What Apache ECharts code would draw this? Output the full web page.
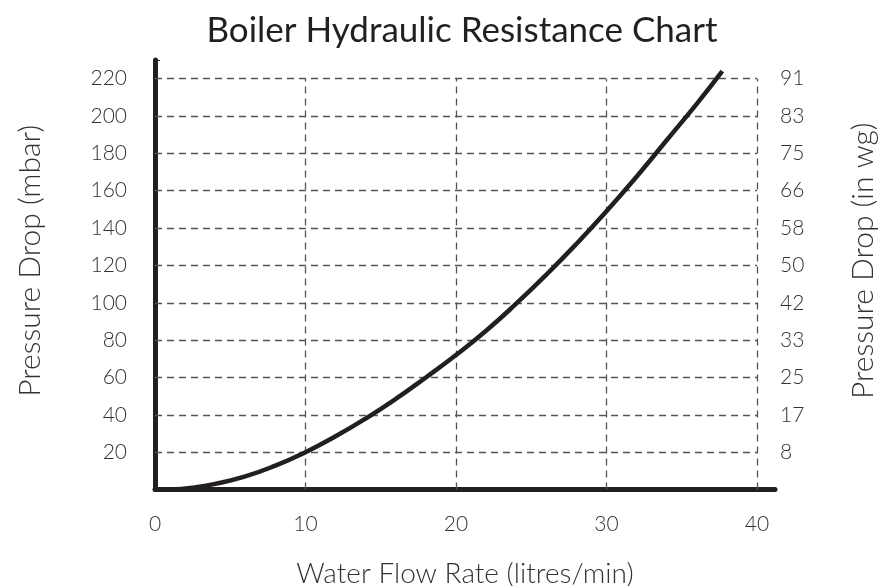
<!DOCTYPE html>
<html>
<head>
<meta charset="utf-8">
<script src="https://cdn.jsdelivr.net/npm/echarts@6/dist/echarts.min.js"></script>
<style>
html,body{margin:0;padding:0;background:#fff;}
#chart{width:893px;height:586px;}
</style>
</head>
<body>
<div id="chart"></div>
<script>
// Data
const flowRate = [1, 2.5, 4, 6, 8, 10, 12, 14, 16, 18, 20, 22, 24, 26, 28, 30, 32, 34, 36, 37.7];
const pressureMbar = [0, 1, 3, 7, 12.8, 20, 28.5, 38, 48.5, 60, 72, 85, 99.5, 115, 131.5, 149, 167.5, 187, 206.5, 224];
const xTicks = [10, 20, 30, 40];
const yTicks = [20, 40, 60, 80, 100, 120, 140, 160, 180, 200, 220];
const rightTickLabels = ['8', '17', '25', '33', '42', '50', '58', '66', '75', '83', '91'];

const ink = '#231f20';
const font = 'Lato, "Open Sans", sans-serif';

const gridLines = [];
yTicks.forEach(v => gridLines.push([{coord: [0, v]}, {coord: [40, v]}]));
xTicks.forEach(v => gridLines.push([{coord: [v, 0]}, {coord: [v, 220]}]));

const chart = echarts.init(document.getElementById('chart'));
chart.setOption({
  animation: false,
  title: {
    text: 'Boiler Hydraulic Resistance Chart',
    left: 457, top: 8, textAlign: 'center',
    textStyle: {fontFamily: font, fontSize: 35, fontWeight: 400, color: ink}
  },
  grid: {left: 155, right: 118, top: 60, bottom: 96.5, containLabel: false, outerBoundsMode: 'none'},
  xAxis: {
    type: 'value', min: 0, max: 41.2, interval: 10,
    name: 'Water Flow Rate (litres/min)', nameLocation: 'middle', nameGap: 70,
    nameTextStyle: {fontFamily: font, fontSize: 28, fontWeight: 300, color: '#333'},
    axisLine: {show: true, lineStyle: {color: ink, width: 5}},
    axisTick: {show: false},
    splitLine: {show: false},
    axisLabel: {
      margin: 24, fontFamily: font, fontSize: 21, fontWeight: 300, color: '#333',
      formatter: v => (v % 10 === 0 ? String(v) : '')
    }
  },
  yAxis: [{
    type: 'value', min: 0, max: 230, interval: 20, position: 'left',
    name: 'Pressure Drop (mbar)', nameLocation: 'middle', nameGap: 110, nameRotate: 90,
    nameTextStyle: {fontFamily: font, fontSize: 30, fontWeight: 300, color: '#333', padding: [0, 0, 0, 28]},
    axisLine: {show: true, lineStyle: {color: ink, width: 5}},
    axisTick: {show: true, inside: true, length: 5, lineStyle: {color: ink, width: 1}},
    splitLine: {show: false},
    axisLabel: {
      margin: 28, fontFamily: font, fontSize: 21, fontWeight: 300, color: '#333',
      formatter: v => (yTicks.indexOf(v) >= 0 ? String(v) : '')
    }
  }, {
    type: 'value', min: 0, max: 230, interval: 20, position: 'right', offset: -18,
    name: 'Pressure Drop (in wg)', nameLocation: 'middle', nameGap: 91, nameRotate: 90,
    nameTextStyle: {fontFamily: font, fontSize: 30, fontWeight: 300, color: '#333', padding: [0, 0, 0, 28]},
    axisLine: {show: false},
    axisTick: {show: false},
    splitLine: {show: false},
    axisLabel: {
      margin: 23, fontFamily: font, fontSize: 21, fontWeight: 300, color: '#333',
      formatter: v => { const i = yTicks.indexOf(v); return i >= 0 ? rightTickLabels[i] : ''; }
    }
  }],
  series: [{
    type: 'line',
    data: flowRate.map((x, i) => [x, pressureMbar[i]]),
    smooth: 0.5,
    symbol: 'none',
    lineStyle: {color: ink, width: 4.5},
    z: 5,
    markLine: {
      silent: true, symbol: 'none', label: {show: false},
      lineStyle: {color: '#555', width: 1.3, type: [7, 5]},
      data: gridLines, z: 1
    }
  }]
});
</script>
</body>
</html>
